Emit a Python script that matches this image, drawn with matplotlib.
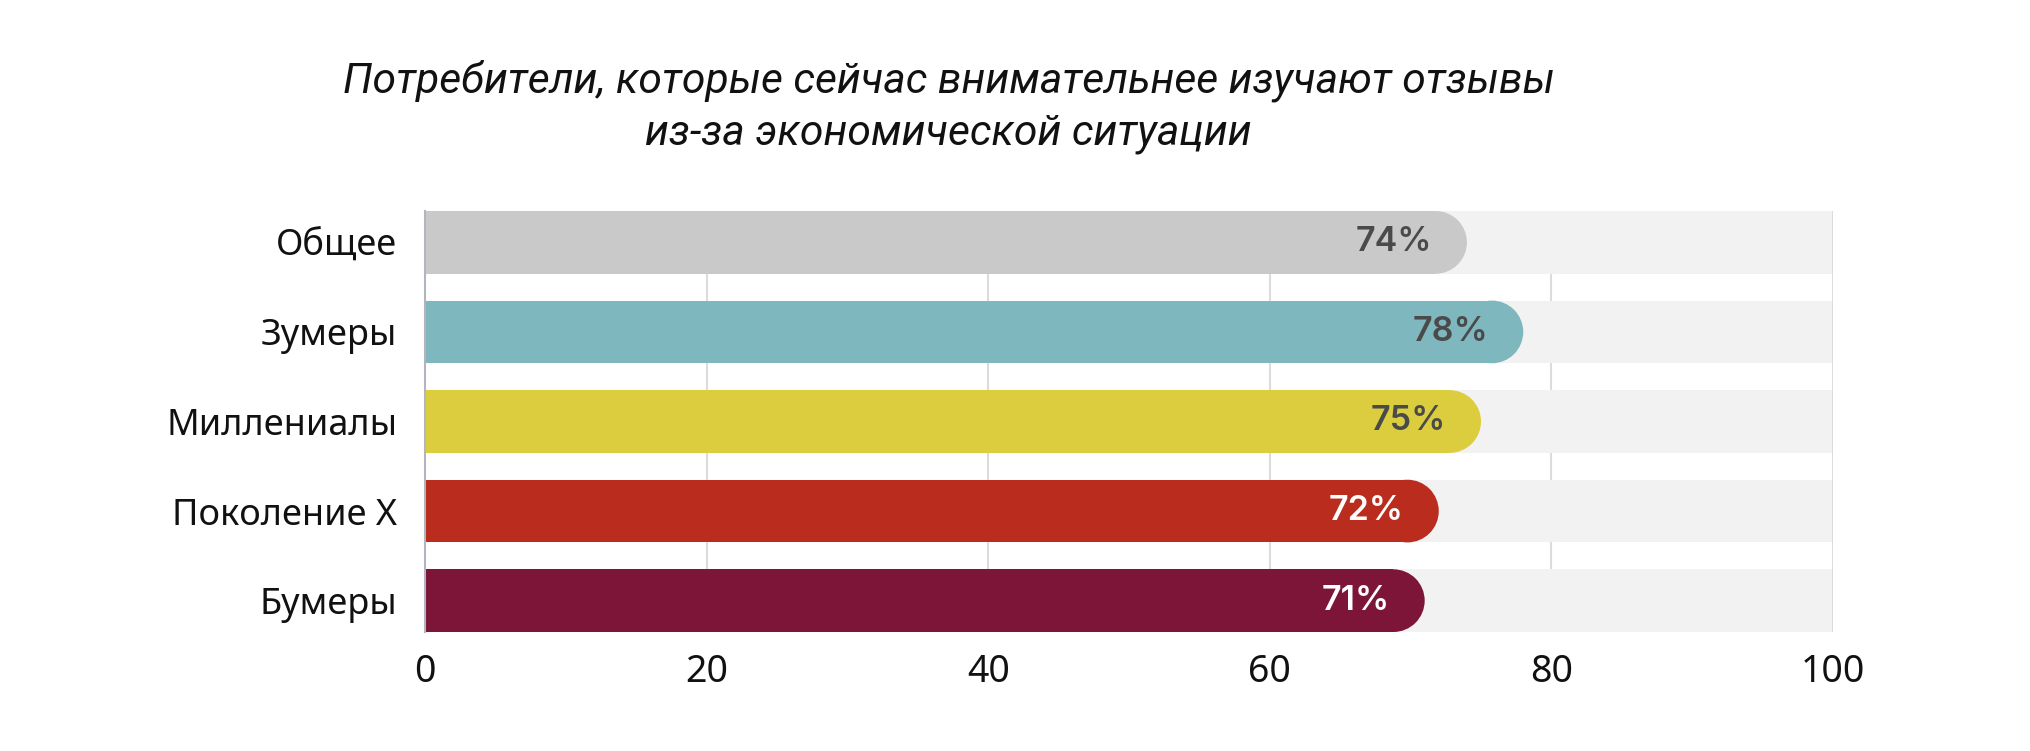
import matplotlib
matplotlib.use('Agg')
import matplotlib.pyplot as plt
from matplotlib.patches import Ellipse

categories = ['Общее', 'Зумеры', 'Миллениалы', 'Поколение X', 'Бумеры']
values = [74, 78, 75, 72, 71]
colors = ['#c9c9c9', '#7fb7bf', '#dccd3e', '#ba2c1d', '#7d1538']
label_colors = ['#4a4a4a', '#4a4a4a', '#4a4a4a', '#ffffff', '#ffffff']
ticks = [0, 20, 40, 60, 80, 100]
title = 'Потребители, которые сейчас внимательнее изучают отзывы\nиз-за экономической ситуации'

W, H = 2031, 751
fig = plt.figure(figsize=(W / 100, H / 100), dpi=100)
left, right, top, bottom = 425, 1833, 211, 632
ax = fig.add_axes([left / W, 1 - bottom / H, (right - left) / W, (bottom - top) / H])

bar_h = 0.7
ypos = list(range(len(categories)))
ax.set_xlim(0, 100)
ax.set_ylim(len(categories) - 1 + bar_h / 2, -bar_h / 2)

# rounded end radius in data units
px_x = (right - left) / 100
px_y = (bottom - top) / (len(categories) - 1 + bar_h)
r_px = bar_h * px_y / 2
rx = r_px / px_x

for x in ticks[1:-1]:
    ax.axvline(x, color='#dcdcdc', lw=1.5, zorder=0)

ax.barh(ypos, [100] * len(ypos), height=bar_h, color='#f2f2f2', zorder=1)
ax.barh(ypos, [v - rx for v in values], height=bar_h, color=colors, zorder=2)
for y, v, c, lc in zip(ypos, values, colors, label_colors):
    ax.add_patch(Ellipse((v - rx, y), 2 * rx, bar_h, color=c, zorder=2, lw=0))
    ax.text(v - 2.5, y, f'{v}%', ha='right', va='center', color=lc,
            fontsize=24.5, fontweight='semibold', family='Inter', zorder=3)

ax.axvline(100, color='#d9d9d9', lw=2, zorder=3)
for s in ['top', 'right', 'bottom']:
    ax.spines[s].set_visible(False)
ax.spines['left'].set_color('#b4b4bc')
ax.spines['left'].set_linewidth(1.5)
ax.spines['left'].set_zorder(4)

ax.set_yticks(ypos)
ax.set_yticklabels(categories, family='Noto Sans', fontsize=26, color='#111111')
ax.set_xticks(ticks)
ax.set_xticklabels([str(t) for t in ticks], family='Noto Sans', fontsize=27, color='#111111')
ax.tick_params(axis='y', length=0, pad=20)
ax.tick_params(axis='x', length=0, pad=15)

fig.text(0.467, 0.858, title, ha='center', va='center', fontsize=30.7,
         style='italic', family='Roboto', color='#111111', linespacing=1.33)

fig.savefig('out.png', dpi=100, facecolor='white')
